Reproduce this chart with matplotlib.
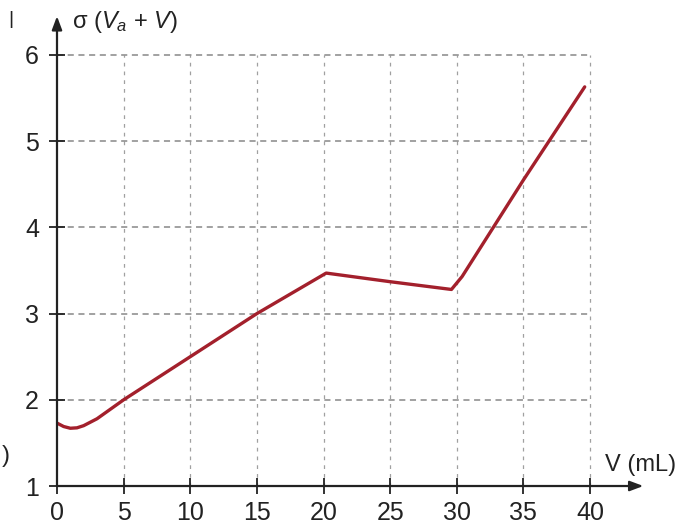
import matplotlib
matplotlib.use("Agg")
import matplotlib.pyplot as plt

plt.rcParams["font.family"] = ["Liberation Sans", "DejaVu Sans"]
plt.rcParams["mathtext.fontset"] = "custom"
plt.rcParams["mathtext.it"] = "Liberation Sans:italic"
plt.rcParams["mathtext.rm"] = "Liberation Sans"

# data
volume = [0, 0.5, 1, 1.5, 2, 3, 5, 10, 15, 20.2, 25, 29.6, 30.4, 35, 39.6]
sigma = [1.73, 1.69, 1.67, 1.675, 1.70, 1.78, 2.0, 2.5, 3.0, 3.47, 3.37, 3.28, 3.43, 4.55, 5.63]
xticks = [0, 5, 10, 15, 20, 25, 30, 35, 40]
yticks = [1, 2, 3, 4, 5, 6]

fig = plt.figure(figsize=(6.81, 5.24), dpi=100)
ax = fig.add_axes([0.0837, 0.0725, 0.861, 0.8966])
ax.set_xlim(0, 44)
ax.set_ylim(1, 6.45)

# grid only up to last tick
for xv in xticks[1:]:
    ax.plot([xv, xv], [yticks[0], yticks[-1]], color="#a0a0a0", lw=0.9,
            ls=(0, (3, 4)), zorder=1)
for yv in yticks[1:]:
    ax.plot([xticks[0], xticks[-1]], [yv, yv], color="#888888", lw=1.1,
            ls=(0, (4, 3)), zorder=1)

ax.plot(volume, sigma, color="#a3202c", lw=2.4, solid_capstyle="round", zorder=3)

for s in ["top", "right", "left", "bottom"]:
    ax.spines[s].set_visible(False)

# arrow axes
ax.annotate("", xy=(1.0, 0), xytext=(0, 0), xycoords="axes fraction",
            arrowprops=dict(arrowstyle="-|>,head_length=0.8,head_width=0.3",
                            color="#222222", lw=1.6, shrinkA=0, shrinkB=0))
ax.annotate("", xy=(0, 1.0), xytext=(0, 0), xycoords="axes fraction",
            arrowprops=dict(arrowstyle="-|>,head_length=0.8,head_width=0.3",
                            color="#222222", lw=1.6, shrinkA=0, shrinkB=0))

ax.set_xticks(xticks)
ax.set_yticks(yticks)
ax.tick_params(direction="inout", length=12, width=1.3, colors="#222222",
               labelsize=18)
ax.tick_params(axis="y", pad=7)
ax.tick_params(axis="x", pad=5)

fig.text(0.106, 0.958, r"σ ($V_a$ + $V$)", fontsize=17, color="#222222",
         ha="left", va="center")
fig.text(0.888, 0.112, "V (mL)", fontsize=17, color="#222222",
         ha="left", va="center")
fig.text(0.002, 0.13, ")", fontsize=17, color="#222222", ha="left", va="center")
fig.text(0.012, 0.962, "|", fontsize=14, color="#222222", ha="left", va="center")

fig.savefig("out.png", dpi=100)
